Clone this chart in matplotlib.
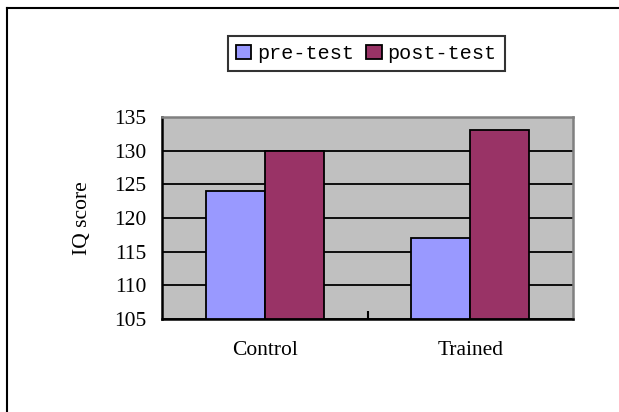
import matplotlib.pyplot as plt
import numpy as np
from matplotlib.lines import Line2D

groups = ['Control', 'Trained']
series = ['pre-test', 'post-test']
pre_test = [124, 117]
post_test = [130, 133]
colors = ['#9999FF', '#993366']

fig = plt.figure(figsize=(6.19, 4.12), dpi=100)
ax = fig.add_axes([0.2617, 0.2257, 0.6640, 0.4903])

x = np.arange(len(groups))
w = 0.287
ax.bar(x - w / 2, np.array(pre_test) - 105, w, bottom=105, color=colors[0],
       edgecolor='black', linewidth=1.3, label=series[0], zorder=3)
ax.bar(x + w / 2, np.array(post_test) - 105, w, bottom=105, color=colors[1],
       edgecolor='black', linewidth=1.3, label=series[1], zorder=3)

ax.set_xlim(-0.5, 1.5)
ax.set_ylim(105, 135)
ax.set_yticks(range(105, 136, 5))
ax.set_facecolor('#C0C0C0')
ax.grid(axis='y', color='black', linewidth=1.3, zorder=1)

ax.set_xticks(x)
ax.set_xticklabels(groups, fontfamily='Liberation Serif', fontsize=15.5)
ax.set_xticks([0.5], minor=True)
ax.tick_params(axis='x', which='major', length=0, pad=16)
ax.tick_params(axis='x', which='minor', direction='in', length=6, width=1.5)
ax.tick_params(axis='y', direction='in', length=0, pad=11)
for lab in ax.get_yticklabels():
    lab.set_fontfamily('Liberation Serif')
    lab.set_fontsize(15.5)

for s in ['left', 'bottom']:
    ax.spines[s].set_color('black')
    ax.spines[s].set_linewidth(1.8)
for s in ['top', 'right']:
    ax.spines[s].set_color('#808080')
    ax.spines[s].set_linewidth(1.8)

ax.set_ylabel('IQ score', fontfamily='Liberation Serif', fontsize=15.5, labelpad=16)

leg = fig.legend(loc='center', bbox_to_anchor=(0.592, 0.870), ncol=2,
                 prop={'family': 'Liberation Mono', 'size': 14.5},
                 frameon=True, fancybox=False, edgecolor='black',
                 handlelength=0.75, handleheight=0.75, handletextpad=0.3,
                 columnspacing=0.6, borderpad=0.4)
leg.get_frame().set_linewidth(1.5)

# outer chart border (top and left visible)
fig.add_artist(Line2D([7 / 619, 1.0], [1 - 8 / 412, 1 - 8 / 412], color='black', linewidth=1.5))
fig.add_artist(Line2D([7 / 619, 7 / 619], [0, 1 - 8 / 412], color='black', linewidth=1.5))

fig.savefig('out.png', dpi=100)
